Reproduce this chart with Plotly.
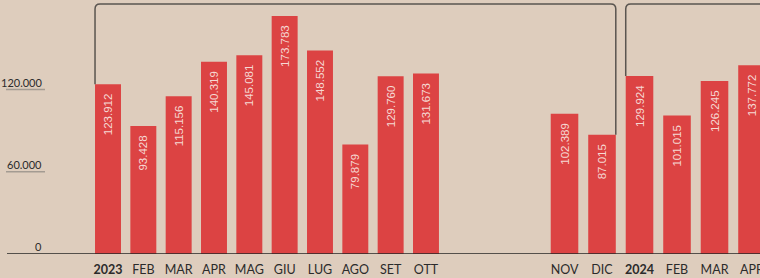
import plotly.graph_objects as go

# ---- data ----
months_a = ["2023", "FEB", "MAR", "APR", "MAG", "GIU", "LUG", "AGO", "SET", "OTT"]
values_a = [123912, 93428, 115156, 140319, 145081, 173783, 148552, 79879, 129760, 131673]
months_b = ["NOV", "DIC", "2024", "FEB", "MAR", "APR"]
values_b = [102389, 87015, 129924, 101015, 126245, 137772]
y_ticks = [0, 60000, 120000]
unit_label = "in unità"

# ---- styling / layout constants ----
W, H = 760, 278
BG = "#decdbd"
BAR = "#dc4343"
TXT = "#2b2b2b"
M_B = 24
PLOT_H = H - M_B
Y_MAX = 185400
SPLIT = 490 / W
RANGE_A = [-3.057, 10.812]
RANGE_B = [-1.987, 5.213]
BARGAP = 0.265


def fmt_tick(t):
    return "<b>%s</b>" % t if t.isdigit() else t


def to_paper(x, rng, dom):
    return dom[0] + (x - rng[0]) / (rng[1] - rng[0]) * (dom[1] - dom[0])


fig = go.Figure()
common = dict(
    marker=dict(color=BAR, line=dict(width=0)),
    texttemplate="%{y:,}\u00a0\u00a0",
    textposition="inside",
    insidetextanchor="end",
    textangle=-90,
    textfont=dict(family="Liberation Sans, Arial", size=11.5, color="#f6d9d4"),
    cliponaxis=True,
    hoverinfo="skip",
)
xa = list(range(len(months_a)))
xb = list(range(len(months_b)))
fig.add_trace(go.Bar(x=xa, y=values_a, xaxis="x", yaxis="y", **common))
fig.add_trace(go.Bar(x=xb, y=values_b, xaxis="x2", yaxis="y", **common))

dom_a = [0, SPLIT]
dom_b = [SPLIT, 1]
axis_common = dict(
    showgrid=False, zeroline=False, showline=False, automargin=False,
    ticks="outside", ticklen=4, tickcolor="rgba(0,0,0,0)",
    ticklabeloverflow="allow",
    tickfont=dict(family="Lato, Noto Sans", size=12.5, color=TXT),
)
fig.update_layout(
    width=W, height=H,
    paper_bgcolor=BG, plot_bgcolor=BG,
    margin=dict(l=0, r=0, t=0, b=M_B, pad=0),
    showlegend=False,
    bargap=BARGAP,
    separators=",.",
    xaxis=dict(domain=dom_a, range=RANGE_A, tickvals=xa,
               ticktext=[fmt_tick(m) for m in months_a], **axis_common),
    xaxis2=dict(domain=dom_b, range=RANGE_B, anchor="y", tickvals=xb,
                ticktext=[fmt_tick(m) for m in months_b], **axis_common),
    yaxis=dict(range=[0, Y_MAX], showgrid=False, zeroline=False,
               showline=False, showticklabels=False, fixedrange=True,
               automargin=False),
)

shapes = []
annotations = []

# y tick labels with short underlines
for t in y_ticks:
    annotations.append(dict(
        x=44 / W, xref="paper", xanchor="right",
        y=t, yref="y", yanchor="bottom", yshift=-1,
        text="{:,}".format(t).replace(",", "."), showarrow=False,
        font=dict(family="Lato, Noto Sans", size=11, color=TXT),
    ))
    if t != 0:
        shapes.append(dict(type="line", xref="paper", yref="y",
                           x0=6 / W, x1=45 / W, y0=t, y1=t,
                           line=dict(color="#a39b92", width=1.5)))

# baseline
shapes.append(dict(type="line", xref="paper", yref="y",
                   x0=7 / W, x1=1, y0=0, y1=0,
                   line=dict(color="#262626", width=1.5)))

# year brackets
half = (1 - BARGAP) / 2
y_top = Y_MAX * (PLOT_H - 4) / PLOT_H
rx = 5 / W
ry = Y_MAX * 5 / PLOT_H
line_style = dict(color="#5a5550", width=1.5)

# 2023 bracket: from 2023 bar (left edge) to DIC bar (right edge)
i0 = months_a.index("2023")
j1 = months_b.index("DIC")
xl = to_paper(xa[i0] - half, RANGE_A, dom_a)
xr = to_paper(xb[j1] + half, RANGE_B, dom_b)
yl = values_a[i0]
yr = values_b[j1]
shapes.append(dict(
    type="path", xref="paper", yref="y", line=line_style,
    path=(f"M {xl},{yl} L {xl},{y_top - ry} Q {xl},{y_top} {xl + rx},{y_top} "
          f"L {xr - rx},{y_top} Q {xr},{y_top} {xr},{y_top - ry} L {xr},{yr}"),
))

# 2024 bracket: from 2024 bar (left edge) to the right edge
j0 = months_b.index("2024")
xl2 = to_paper(xb[j0] - half, RANGE_B, dom_b)
yl2 = values_b[j0]
shapes.append(dict(
    type="path", xref="paper", yref="y", line=line_style,
    path=(f"M {xl2},{yl2} L {xl2},{y_top - ry} Q {xl2},{y_top} {xl2 + rx},{y_top} "
          f"L 1.01,{y_top}"),
))

# unit label (mostly cut off at the top)
annotations.append(dict(
    x=8 / W, xref="paper", xanchor="left",
    y=1, yref="paper", yanchor="bottom", yshift=-4,
    text=unit_label, showarrow=False,
    font=dict(family="Lato, Noto Sans", size=11, color=TXT),
))

fig.update_layout(shapes=shapes, annotations=annotations)
fig.write_html(
    "out.html",
    config={"displayModeBar": False},
    post_script="document.body.style.margin='0';document.body.style.overflow='hidden';",
)
